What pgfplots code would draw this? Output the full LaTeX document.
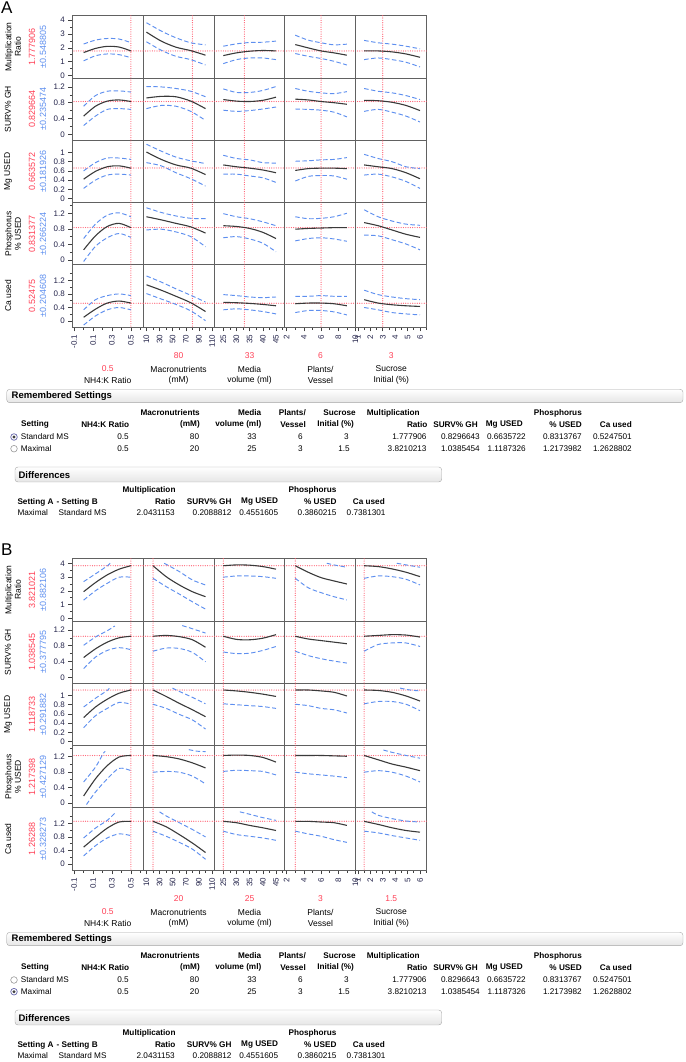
\documentclass[border=0pt]{standalone}
\usepackage{fontspec}
\setmainfont{Liberation Sans}
\usepackage{pgfplots}
\pgfplotsset{compat=1.18}
\definecolor{jblue}{HTML}{5E8FEF}
\definecolor{jred}{HTML}{FF3F55}
\definecolor{jmean}{HTML}{3A3A3A}
\definecolor{tkl}{HTML}{23234A}
\newcommand\fs[1]{\fontsize{#1}{#1}\selectfont}

\pgfplotsset{
  prof/.style={scale only axis, width=70.88pt, height=62.32pt,
    at={(0pt,0pt)}, anchor=north west, clip=true,
    axis line style={draw=black!62, line width=1pt},
    xtick=\empty, ytick=\empty, xtick pos=bottom, ytick pos=left,
    tick align=outside, major tick length=4pt, minor tick length=2.5pt,
    tick style={black!75, line width=0.6pt},
    ticklabel style={font=\fs{8}, text=tkl},
    /pgf/number format/assume math mode=true, /pgf/number format/fixed,
    xticklabel style={rotate=90, anchor=east},
  },
  c1/.style={xmin=-0.12, xmax=0.63, xshift=72.3pt},
  c2/.style={xmin=5, xmax=113, xshift=143.18pt},
  c3/.style={xmin=21.5, xmax=48.4, xshift=214.06pt},
  c4/.style={xmin=1.8, xmax=10.04, xshift=284.94pt},
  c5/.style={xmin=0.83, xmax=6.54, xshift=355.82pt},
  r1/.style={ymin=-0.18, ymax=4.33, yshift=1046.3pt},
  r2/.style={ymin=-0.154, ymax=1.426, yshift=983.98pt},
  r3/.style={ymin=-0.09, ymax=1.265, yshift=921.66pt},
  r4/.style={ymin=-0.128, ymax=1.472, yshift=859.34pt},
  r5/.style={ymin=-0.185, ymax=1.655, yshift=797.02pt},
  L1/.style={ytick={0,1,2,3,4}, minor ytick={0.5,1.5,2.5,3.5}},
  L2/.style={ytick={0,0.4,0.8,1.2}, minor ytick={0.2,0.6,1.0}},
  L3/.style={ytick={0,0.2,0.4,0.6,0.8,1}},
  L4/.style={ytick={0,0.4,0.8,1.2}, minor ytick={0.2,0.6,1.0,1.4}},
  L5/.style={ytick={0,0.4,0.8,1.2}, minor ytick={0.2,0.6,1.0,1.4}},
  X1/.style={xtick={-0.1,0.1,0.3,0.5}, minor xtick={0,0.2,0.4,0.6}},
  X2/.style={xtick={10,30,50,70,90,110}, minor xtick={20,40,60,80,100}},
  X3/.style={xtick={25,30,35,40,45}, minor xtick={27.5,32.5,37.5,42.5,47.5}},
  X4/.style={xtick={2,4,6,8,10}, minor xtick={3,5,7,9}},
  X5/.style={xtick={1,2,3,4,5,6}, minor xtick={1.5,2.5,3.5,4.5,5.5,6.5}},
  refline/.style={draw=jred!85, line width=1.2pt, line cap=round,
    dash pattern=on 0pt off 2.3pt, forget plot},
  meanc/.style={jmean, line width=1.1pt, smooth, no markers},
  bandc/.style={jblue, line width=0.95pt, dash pattern=on 4.5pt off 2.5pt, smooth, no markers},
}
\newcommand\R[2]{\addplot[refline] coordinates {(#1,-3) (#1,5)};
  \addplot[refline] coordinates {(-2,#2) (120,#2)};}
\newcommand\M[1]{\addplot[meanc] coordinates {#1};}
\newcommand\U[1]{\addplot[bandc] coordinates {#1};}

% labels left of the rows, under the columns, and the two tables
\newcommand\names{%
  \node[rotate=90, align=center, font=\fs{8.5}] at (13,1015.1) {Multiplication\\[1pt]Ratio};
  \node[rotate=90, font=\fs{8.5}] at (8,952.8) {SURV\% GH};
  \node[rotate=90, font=\fs{8.5}] at (8,890.5) {Mg USED};
  \node[rotate=90, align=center, font=\fs{8.5}] at (13,828.2) {Phosphorus\\[1pt]\% USED};
  \node[rotate=90, font=\fs{8.5}] at (8,765.9) {Ca used};
  \node[font=\fs{8.5}] at (107.7,1062-380.7) {NH4:K Ratio};
  \node[font=\fs{8.5}] at (178.6,1062-369) {Macronutrients};
  \node[font=\fs{8.5}] at (178.6,1062-380.7) {(mM)};
  \node[font=\fs{8.5}] at (249.5,1062-369) {Media};
  \node[font=\fs{8.5}] at (249.5,1062-380.7) {volume (ml)};
  \node[font=\fs{8.5}] at (320.4,1062-369) {Plants/};
  \node[font=\fs{8.5}] at (320.4,1062-380.7) {Vessel};
  \node[font=\fs{8.5}] at (391.3,1062-369) {Sucrose};
  \node[font=\fs{8.5}] at (391.3,1062-380.7) {Initial (\%)};
}
\newcommand\vals[3]{% response value, half width, row centre y
  \node[rotate=90, font=\fs{9}, text=jred] at (32,#3) {#1};
  \node[rotate=90, font=\fs{9}, text=jblue] at (43,#3) {±#2};
}
\newcommand\hd[3]{\node[anchor=east, inner sep=0, font=\fs{8.2}\bfseries] at (#1,1062-#2) {#3};}
\newcommand\hdl[3]{\node[anchor=west, inner sep=0, font=\fs{8.2}\bfseries] at (#1,1062-#2) {#3};}
\newcommand\cl[3]{\node[anchor=east, inner sep=0, font=\fs{8.2}] at (#1,1062-#2) {#3};}
\newcommand\lf[3]{\node[anchor=west, inner sep=0, font=\fs{8.2}] at (#1,1062-#2) {#3};}
\newcommand\radio[2]{% y, selected?
  \ifnum#2=1
    \draw[fill=white, draw=blue!45!black!60, line width=0.7pt] (14,1062-#1) circle (3.3);
    \fill[black!75] (14,1062-#1) circle (1.6);
  \else
    \draw[fill=white, draw=black!40, line width=0.6pt] (14,1062-#1) circle (3.3);
  \fi}
\newcommand\tables[1]{%
  \draw[rounded corners=3pt, draw=black!35, top color=white, bottom color=black!10]
    (6.7,1062-389.3) rectangle (683,1062-402.7);
  \node[anchor=west, inner sep=0, font=\fs{9.5}\bfseries] at (11.5,1062-396) {Remembered Settings};
  \hd{200}{413}{Macronutrients}\hd{261.5}{413}{Media}\hd{306}{413}{Plants/}
  \hd{356}{413}{Sucrose}\hdl{366.7}{413}{Multiplication}\hd{582}{413}{Phosphorus}
  \node[inner sep=0, font=\fs{8.2}\bfseries] at (35,1062-424.7) {Setting};
  \hd{129.3}{424.7}{NH4:K Ratio}\hd{200}{424.7}{(mM)}\hd{261.5}{424.7}{volume (ml)}
  \hd{306}{424.7}{Vessel}\hd{354}{424.7}{Initial (\%)}\hd{427.7}{424.7}{Ratio}
  \hd{478}{424.7}{SURV\% GH}\hd{523}{424.7}{Mg USED}\hd{582}{424.7}{\% USED}
  \hd{632}{424.7}{Ca used}
  \ifnum#1=1 \radio{437}{1}\radio{448.7}{0}\else\radio{437}{0}\radio{448.7}{1}\fi
  \lf{20.7}{437}{Standard MS}\cl{129}{437}{0.5}\cl{199.3}{437}{80}\cl{256.7}{437}{33}
  \cl{303}{437}{6}\cl{349}{437}{3}\cl{426.7}{437}{1.777906}\cl{480}{437}{0.8296643}
  \cl{526}{437}{0.6635722}\cl{582}{437}{0.8313767}\cl{632}{437}{0.5247501}
  \lf{20.7}{448.7}{Maximal}\cl{129}{448.7}{0.5}\cl{199.3}{448.7}{20}\cl{256.7}{448.7}{25}
  \cl{303}{448.7}{3}\cl{350}{448.7}{1.5}\cl{426.7}{448.7}{3.8210213}\cl{480}{448.7}{1.0385454}
  \cl{526}{448.7}{1.1187326}\cl{582}{448.7}{1.2173982}\cl{632}{448.7}{1.2628802}
  \draw[rounded corners=3pt, draw=black!35, top color=white, bottom color=black!10]
    (15,1062-467) rectangle (441.7,1062-482);
  \node[anchor=west, inner sep=0, font=\fs{9.5}\bfseries] at (18.3,1062-474.7) {Differences};
  \hd{175.7}{490.7}{Multiplication}\hd{336.7}{490.7}{Phosphorus}
  \hdl{17.3}{502}{Setting A}\hdl{56.5}{502}{- Setting B}\hd{175.7}{502}{Ratio}
  \hd{231.7}{502}{SURV\% GH}\hd{278.3}{502}{Mg USED}\hd{336.7}{502}{\% USED}
  \hd{385}{502}{Ca used}
  \lf{17.3}{512.7}{Maximal}\lf{58.5}{512.7}{Standard MS}\cl{175}{512.7}{2.0431153}
  \cl{231.7}{512.7}{0.2088812}\cl{278.3}{512.7}{0.4551605}\cl{336.7}{512.7}{0.3860215}
  \cl{385.7}{512.7}{0.7381301}
}

\begin{document}
\begin{tikzpicture}[x=1pt, y=1pt]
\path[use as bounding box] (0,0) rectangle (685,1062);

% ================= A =================
\node[anchor=west, inner sep=0, font=\fs{17}] at (1,1062-8) {A};
\names
\vals{1.777906}{0.548805}{1015.1}
\vals{0.829664}{0.235474}{952.8}
\vals{0.663572}{0.181926}{890.5}
\vals{0.831377}{0.266224}{828.2}
\vals{0.52475}{0.204608}{765.9}
\node[font=\fs{8.5}, text=jred] at (107.7,1062-369) {0.5};
\node[font=\fs{8.5}, text=jred] at (178.6,1062-355.7) {80};
\node[font=\fs{8.5}, text=jred] at (249.5,1062-355.7) {33};
\node[font=\fs{8.5}, text=jred] at (320.4,1062-355.7) {6};
\node[font=\fs{8.5}, text=jred] at (391.3,1062-355.7) {3};
\tables{1}

% row 1
\begin{axis}[prof,c1,r1,L1]\R{0.5}{1.777906}
\M{(0,1.66) (0.125,1.96) (0.25,2.11) (0.375,2.06) (0.5,1.78)}
\U{(0,2.28) (0.125,2.56) (0.25,2.68) (0.375,2.64) (0.5,2.38)}
\U{(0,1.06) (0.125,1.43) (0.25,1.56) (0.375,1.51) (0.5,1.29)}
\end{axis}
\begin{axis}[prof,c2,r1]\R{80}{1.777906}
\M{(10,3.14) (32.5,2.49) (55,2.05) (77.5,1.8) (100,1.47)}
\U{(10,3.82) (32.5,3.22) (55,2.73) (77.5,2.37) (100,2.22)}
\U{(10,2.44) (32.5,1.83) (55,1.39) (77.5,1.15) (100,0.76)}
\end{axis}
\begin{axis}[prof,c3,r1]\R{33}{1.777906}
\M{(25,1.44) (30,1.64) (35,1.76) (40,1.81) (45,1.78)}
\U{(25,2.12) (30,2.29) (35,2.39) (40,2.41) (45,2.49)}
\U{(25,0.86) (30,1.15) (35,1.27) (40,1.27) (45,1.15)}
\end{axis}
\begin{axis}[prof,c4,r1]\R{6}{1.777906}
\M{(3,2.24) (4.5,2.0) (6,1.78) (7.5,1.64) (9,1.47)}
\U{(3,2.92) (4.5,2.56) (6,2.37) (7.5,2.22) (9,2.27)}
\U{(3,1.59) (4.5,1.39) (6,1.23) (7.5,1.03) (9,0.76)}
\end{axis}
\begin{axis}[prof,c5,r1]\R{3}{1.777906}
\M{(1.5,1.78) (2.625,1.78) (3.75,1.71) (4.875,1.56) (6,1.32)}
\U{(1.5,2.54) (2.625,2.37) (3.75,2.27) (4.875,2.12) (6,1.93)}
\U{(1.5,1.15) (2.625,1.27) (3.75,1.15) (4.875,0.96) (6,0.62)}
\end{axis}
% row 2
\begin{axis}[prof,c1,r2,L2]\R{0.5}{0.829664}
\M{(0,0.46) (0.125,0.71) (0.25,0.84) (0.375,0.87) (0.5,0.83)}
\U{(0,0.71) (0.125,0.98) (0.25,1.09) (0.375,1.10) (0.5,1.07)}
\U{(0,0.22) (0.125,0.46) (0.25,0.63) (0.375,0.65) (0.5,0.63)}
\end{axis}
\begin{axis}[prof,c2,r2]\R{80}{0.829664}
\M{(10,0.92) (32.5,0.96) (55,0.95) (77.5,0.84) (100,0.65)}
\U{(10,1.21) (32.5,1.20) (55,1.16) (77.5,1.09) (100,0.95)}
\U{(10,0.65) (32.5,0.73) (55,0.71) (77.5,0.58) (100,0.35)}
\end{axis}
\begin{axis}[prof,c3,r2]\R{33}{0.829664}
\M{(25,0.88) (30,0.84) (35,0.83) (40,0.86) (45,0.94)}
\U{(25,1.15) (30,1.06) (35,1.06) (40,1.11) (45,1.21)}
\U{(25,0.61) (30,0.58) (35,0.60) (40,0.64) (45,0.69)}
\end{axis}
\begin{axis}[prof,c4,r2]\R{6}{0.829664}
\M{(3,0.89) (4.5,0.87) (6,0.83) (7.5,0.80) (9,0.76)}
\U{(3,1.16) (4.5,1.09) (6,1.05) (7.5,1.03) (9,1.08)}
\U{(3,0.64) (4.5,0.63) (6,0.61) (7.5,0.56) (9,0.44)}
\end{axis}
\begin{axis}[prof,c5,r2]\R{3}{0.829664}
\M{(1.5,0.86) (2.625,0.85) (3.75,0.81) (4.875,0.73) (6,0.60)}
\U{(1.5,1.16) (2.625,1.09) (3.75,1.05) (4.875,0.98) (6,0.88)}
\U{(1.5,0.58) (2.625,0.63) (3.75,0.56) (4.875,0.46) (6,0.31)}
\end{axis}
% row 3
\begin{axis}[prof,c1,r3,L3]\R{0.5}{0.663572}
\M{(0,0.42) (0.125,0.59) (0.25,0.69) (0.375,0.71) (0.5,0.66)}
\U{(0,0.60) (0.125,0.78) (0.25,0.88) (0.375,0.88) (0.5,0.85)}
\U{(0,0.22) (0.125,0.40) (0.25,0.51) (0.375,0.53) (0.5,0.51)}
\end{axis}
\begin{axis}[prof,c2,r3]\R{80}{0.663572}
\M{(10,1.01) (32.5,0.85) (55,0.73) (77.5,0.66) (100,0.52)}
\U{(10,1.18) (32.5,1.03) (55,0.90) (77.5,0.82) (100,0.76)}
\U{(10,0.78) (32.5,0.71) (55,0.56) (77.5,0.43) (100,0.27)}
\end{axis}
\begin{axis}[prof,c3,r3]\R{33}{0.663572}
\M{(25,0.73) (30,0.69) (35,0.66) (40,0.62) (45,0.56)}
\U{(25,0.94) (30,0.87) (35,0.84) (40,0.78) (45,0.77)}
\U{(25,0.53) (30,0.53) (35,0.49) (40,0.45) (45,0.35)}
\end{axis}
\begin{axis}[prof,c4,r3]\R{6}{0.663572}
\M{(3,0.61) (4.5,0.65) (6,0.66) (7.5,0.66) (9,0.65)}
\U{(3,0.81) (4.5,0.82) (6,0.84) (7.5,0.85) (9,0.89)}
\U{(3,0.38) (4.5,0.48) (6,0.50) (7.5,0.49) (9,0.42)}
\end{axis}
\begin{axis}[prof,c5,r3]\R{3}{0.663572}
\M{(1.5,0.73) (2.625,0.69) (3.75,0.65) (4.875,0.56) (6,0.43)}
\U{(1.5,0.96) (2.625,0.87) (3.75,0.80) (4.875,0.69) (6,0.65)}
\U{(1.5,0.51) (2.625,0.53) (3.75,0.47) (4.875,0.37) (6,0.22)}
\end{axis}
% row 4
\begin{axis}[prof,c1,r4,L4]\R{0.5}{0.831377}
\M{(0,0.26) (0.125,0.62) (0.25,0.86) (0.375,0.94) (0.5,0.83)}
\U{(0,0.55) (0.125,0.92) (0.25,1.15) (0.375,1.21) (0.5,1.11)}
\U{(0,-0.04) (0.125,0.35) (0.25,0.57) (0.375,0.68) (0.5,0.58)}
\end{axis}
\begin{axis}[prof,c2,r4]\R{80}{0.831377}
\M{(10,1.11) (32.5,1.03) (55,0.94) (77.5,0.85) (100,0.69)}
\U{(10,1.34) (32.5,1.22) (55,1.13) (77.5,1.07) (100,1.06)}
\U{(10,0.77) (32.5,0.79) (55,0.72) (77.5,0.60) (100,0.34)}
\end{axis}
\begin{axis}[prof,c3,r4]\R{33}{0.831377}
\M{(25,0.88) (30,0.86) (35,0.81) (40,0.71) (45,0.55)}
\U{(25,1.19) (30,1.11) (35,1.06) (40,0.98) (45,0.88)}
\U{(25,0.57) (30,0.60) (35,0.54) (40,0.43) (45,0.21)}
\end{axis}
\begin{axis}[prof,c4,r4]\R{6}{0.831377}
\M{(3,0.79) (4.5,0.81) (6,0.82) (7.5,0.83) (9,0.83)}
\U{(3,1.11) (4.5,1.06) (6,1.07) (7.5,1.11) (9,1.20)}
\U{(3,0.49) (4.5,0.55) (6,0.57) (7.5,0.54) (9,0.48)}
\end{axis}
\begin{axis}[prof,c5,r4]\R{3}{0.831377}
\M{(1.5,0.96) (2.625,0.88) (3.75,0.77) (4.875,0.66) (6,0.58)}
\U{(1.5,1.29) (2.625,1.11) (3.75,1.00) (4.875,0.92) (6,0.89)}
\U{(1.5,0.64) (2.625,0.62) (3.75,0.52) (4.875,0.41) (6,0.26)}
\end{axis}
% row 5
\begin{axis}[prof,c1,r5,L5,X1]\R{0.5}{0.52475}
\M{(0,0.11) (0.125,0.35) (0.25,0.53) (0.375,0.59) (0.5,0.53)}
\U{(0,0.33) (0.125,0.63) (0.25,0.75) (0.375,0.80) (0.5,0.75)}
\U{(0,-0.12) (0.125,0.15) (0.25,0.33) (0.375,0.40) (0.5,0.33)}
\end{axis}
\begin{axis}[prof,c2,r5,X2]\R{80}{0.52475}
\M{(10,1.07) (32.5,0.91) (55,0.73) (77.5,0.54) (100,0.28)}
\U{(10,1.33) (32.5,1.15) (55,0.95) (77.5,0.76) (100,0.56)}
\U{(10,0.81) (32.5,0.65) (55,0.49) (77.5,0.30) (100,0.01)}
\end{axis}
\begin{axis}[prof,c3,r5,X3]\R{33}{0.52475}
\M{(25,0.55) (30,0.54) (35,0.52) (40,0.49) (45,0.45)}
\U{(25,0.78) (30,0.75) (35,0.71) (40,0.69) (45,0.71)}
\U{(25,0.33) (30,0.36) (35,0.33) (40,0.28) (45,0.21)}
\end{axis}
\begin{axis}[prof,c4,r5,X4]\R{6}{0.52475}
\M{(3,0.51) (4.5,0.53) (6,0.53) (7.5,0.51) (9,0.45)}
\U{(3,0.73) (4.5,0.73) (6,0.75) (7.5,0.73) (9,0.73)}
\U{(3,0.25) (4.5,0.31) (6,0.31) (7.5,0.27) (9,0.18)}
\end{axis}
\begin{axis}[prof,c5,r5,X5]\R{3}{0.52475}
\M{(1.5,0.63) (2.625,0.53) (3.75,0.48) (4.875,0.45) (6,0.43)}
\U{(1.5,0.91) (2.625,0.78) (3.75,0.71) (4.875,0.66) (6,0.63)}
\U{(1.5,0.40) (2.625,0.33) (3.75,0.25) (4.875,0.21) (6,0.18)}
\end{axis}

% ================= B =================
\begin{scope}[yshift=-543pt]
\node[anchor=west, inner sep=0, font=\fs{17}] at (1,1062-7) {B};
\names
\vals{3.821021}{0.882106}{1015.1}
\vals{1.038545}{0.377795}{952.8}
\vals{1.118733}{0.291882}{890.5}
\vals{1.217398}{0.427129}{828.2}
\vals{1.26288}{0.328273}{765.9}
\node[font=\fs{8.5}, text=jred] at (107.7,1062-369) {0.5};
\node[font=\fs{8.5}, text=jred] at (178.6,1062-355.7) {20};
\node[font=\fs{8.5}, text=jred] at (249.5,1062-355.7) {25};
\node[font=\fs{8.5}, text=jred] at (320.4,1062-355.7) {3};
\node[font=\fs{8.5}, text=jred] at (391.3,1062-355.7) {1.5};
\tables{2}

% row 1
\begin{axis}[prof,c1,r1,L1]\R{0.5}{3.821021}
\M{(0,1.94) (0.125,2.6) (0.25,3.16) (0.375,3.57) (0.5,3.82)}
\U{(0,2.67) (0.125,3.23) (0.25,3.81) (0.28,4.0)}
\U{(0,1.33) (0.125,2.01) (0.25,2.55) (0.375,2.99) (0.5,2.99)}
\end{axis}
\begin{axis}[prof,c2,r1]\R{20}{3.821021}
\M{(20,3.82) (40,3.03) (60,2.43) (80,1.94) (100,1.58)}
\U{(37,4.0) (60,3.4) (80,2.79) (100,2.43)}
\U{(20,2.91) (40,2.31) (60,1.77) (80,1.21) (100,0.68)}
\end{axis}
\begin{axis}[prof,c3,r1]\R{25}{3.821021}
\M{(25,3.82) (30,3.88) (35,3.86) (40,3.76) (45,3.57)}
\U{(25,2.99) (30,3.08) (35,3.08) (40,3.03) (45,2.91)}
\end{axis}
\begin{axis}[prof,c4,r1]\R{3}{3.821021}
\M{(3,3.82) (4.5,3.35) (6,2.96) (7.5,2.72) (9,2.5)}
\U{(6.66,4.0) (7.5,3.88) (9,3.71)}
\U{(3,2.91) (4.5,2.23) (6,1.87) (7.5,1.58) (9,1.35)}
\end{axis}
\begin{axis}[prof,c5,r1]\R{1.5}{3.821021}
\M{(1.5,3.82) (2.625,3.76) (3.75,3.59) (4.875,3.35) (6,3.03)}
\U{(4.13,4.0) (4.88,3.88) (6,3.71)}
\U{(1.5,2.91) (2.625,3.08) (3.75,3.03) (4.875,2.84) (6,2.43)}
\end{axis}
% row 2
\begin{axis}[prof,c1,r2,L2]\R{0.5}{1.038545}
\M{(0,0.5) (0.125,0.72) (0.25,0.89) (0.375,1.0) (0.5,1.04)}
\U{(0,0.81) (0.125,1.02) (0.25,1.18) (0.33,1.3)}
\U{(0,0.22) (0.125,0.51) (0.25,0.68) (0.375,0.75) (0.5,0.7)}
\end{axis}
\begin{axis}[prof,c2,r2]\R{20}{1.038545}
\M{(20,1.04) (40,1.06) (60,1.03) (80,0.95) (100,0.76)}
\U{(64.6,1.31) (80,1.23) (100,1.12)}
\U{(20,0.66) (40,0.74) (60,0.73) (80,0.63) (100,0.39)}
\end{axis}
\begin{axis}[prof,c3,r2]\R{25}{1.038545}
\M{(25,1.04) (30,0.96) (35,0.95) (40,0.99) (45,1.08)}
\U{(25,0.64) (30,0.6) (35,0.61) (40,0.68) (45,0.78)}
\end{axis}
\begin{axis}[prof,c4,r2]\R{3}{1.038545}
\M{(3,1.04) (4.5,0.97) (6,0.93) (7.5,0.89) (9,0.85)}
\U{(3,0.66) (4.5,0.55) (6,0.47) (7.5,0.41) (9,0.36)}
\end{axis}
\begin{axis}[prof,c5,r2]\R{1.5}{1.038545}
\M{(1.5,1.04) (2.625,1.06) (3.75,1.08) (4.875,1.07) (6,1.02)}
\U{(1.5,0.66) (2.625,0.83) (3.75,0.87) (4.875,0.87) (6,0.78)}
\end{axis}
% row 3
\begin{axis}[prof,c1,r3,L3]\R{0.5}{1.118733}
\M{(0,0.52) (0.125,0.75) (0.25,0.92) (0.375,1.05) (0.5,1.12)}
\U{(0,0.75) (0.125,0.94) (0.25,1.11) (0.27,1.16)}
\U{(0,0.3) (0.125,0.56) (0.25,0.72) (0.375,0.85) (0.5,0.81)}
\end{axis}
\begin{axis}[prof,c2,r3]\R{20}{1.118733}
\M{(20,1.12) (40,0.98) (60,0.83) (80,0.69) (100,0.54)}
\U{(49.7,1.16) (60,1.09) (80,0.96) (100,0.82)}
\U{(20,0.81) (40,0.72) (60,0.59) (80,0.47) (100,0.27)}
\end{axis}
\begin{axis}[prof,c3,r3]\R{25}{1.118733}
\M{(25,1.12) (30,1.1) (35,1.07) (40,1.03) (45,0.98)}
\U{(25,0.82) (30,0.8) (35,0.78) (40,0.76) (45,0.72)}
\end{axis}
\begin{axis}[prof,c4,r3]\R{3}{1.118733}
\M{(3,1.12) (4.5,1.12) (6,1.1) (7.5,1.07) (9,0.99)}
\U{(3,0.81) (4.5,0.78) (6,0.72) (7.5,0.69) (9,0.62)}
\end{axis}
\begin{axis}[prof,c5,r3]\R{1.5}{1.118733}
\M{(1.5,1.12) (2.625,1.11) (3.75,1.07) (4.875,0.99) (6,0.88)}
\U{(4.4,1.16) (5.2,1.12) (6,1.1)}
\U{(1.5,0.82) (2.625,0.87) (3.75,0.87) (4.875,0.81) (6,0.67)}
\end{axis}
% row 4
\begin{axis}[prof,c1,r4,L4]\R{0.5}{1.217398}
\M{(0,0.18) (0.125,0.62) (0.25,0.96) (0.375,1.18) (0.5,1.22)}
\U{(0,0.54) (0.125,0.92) (0.21,1.28) (0.23,1.32)}
\U{(0.03,-0.04) (0.125,0.28) (0.25,0.62) (0.375,0.89) (0.5,0.83)}
\end{axis}
\begin{axis}[prof,c2,r4]\R{20}{1.217398}
\M{(20,1.22) (40,1.19) (60,1.13) (80,1.03) (100,0.9)}
\U{(74.5,1.37) (86.8,1.33) (100,1.32)}
\U{(20,0.79) (40,0.81) (60,0.79) (80,0.69) (100,0.49)}
\end{axis}
\begin{axis}[prof,c3,r4]\R{25}{1.217398}
\M{(25,1.22) (30,1.23) (35,1.22) (40,1.17) (45,1.05)}
\U{(25,0.81) (30,0.84) (35,0.83) (40,0.81) (45,0.72)}
\end{axis}
\begin{axis}[prof,c4,r4]\R{3}{1.217398}
\M{(3,1.22) (4.5,1.22) (6,1.22) (7.5,1.21) (9,1.2)}
\U{(3,0.79) (4.5,0.75) (6,0.72) (7.5,0.69) (9,0.65)}
\end{axis}
\begin{axis}[prof,c5,r4]\R{1.5}{1.217398}
\M{(1.5,1.22) (2.625,1.11) (3.75,1.0) (4.875,0.92) (6,0.83)}
\U{(3.05,1.36) (3.75,1.3) (4.88,1.22) (6,1.15)}
\U{(1.5,0.79) (2.625,0.83) (3.75,0.79) (4.875,0.69) (6,0.54)}
\end{axis}
% row 5
\begin{axis}[prof,c1,r5,L5,X1]\R{0.5}{1.26288}
\M{(0,0.5) (0.125,0.79) (0.25,1.06) (0.375,1.24) (0.5,1.26)}
\U{(0,0.77) (0.125,1.06) (0.25,1.29) (0.33,1.5)}
\U{(0,0.24) (0.125,0.54) (0.25,0.77) (0.375,0.89) (0.5,0.84)}
\end{axis}
\begin{axis}[prof,c2,r5,X2]\R{20}{1.26288}
\M{(20,1.26) (40,1.1) (60,0.87) (80,0.62) (100,0.34)}
\U{(30,1.54) (40,1.42) (60,1.22) (80,1.02) (100,0.8)}
\U{(20,0.97) (40,0.82) (60,0.64) (80,0.44) (100,0.14)}
\end{axis}
\begin{axis}[prof,c3,r5,X3]\R{25}{1.26288}
\M{(25,1.26) (30,1.22) (35,1.14) (40,1.07) (45,0.99)}
\U{(31.3,1.54) (35,1.47) (40,1.37) (45,1.29)}
\U{(25,0.97) (30,0.87) (35,0.82) (40,0.77) (45,0.7)}
\end{axis}
\begin{axis}[prof,c4,r5,X4]\R{3}{1.26288}
\M{(3,1.26) (4.5,1.26) (6,1.24) (7.5,1.22) (9,1.14)}
\U{(3,0.97) (4.5,0.89) (6,0.82) (7.5,0.72) (9,0.64)}
\end{axis}
\begin{axis}[prof,c5,r5,X5]\R{1.5}{1.26288}
\M{(1.5,1.26) (2.625,1.17) (3.75,1.07) (4.875,0.99) (6,0.94)}
\U{(2.12,1.54) (2.63,1.44) (3.75,1.34) (4.88,1.27) (6,1.24)}
\U{(1.5,0.97) (2.625,0.92) (3.75,0.84) (4.875,0.77) (6,0.7)}
\end{axis}
\end{scope}
\end{tikzpicture}
\end{document}
